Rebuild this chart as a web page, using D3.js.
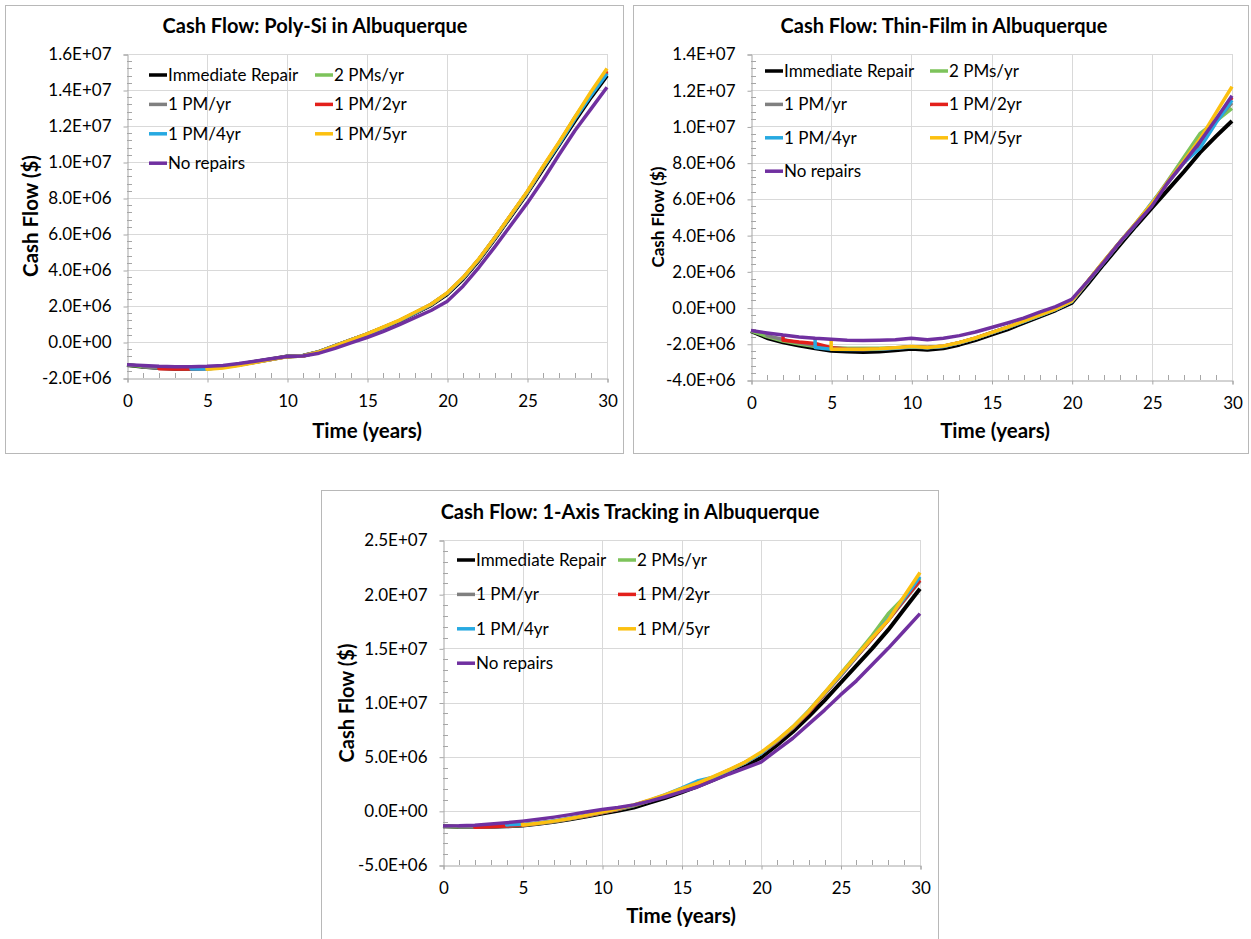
<!DOCTYPE html>
<html><head><meta charset="utf-8">
<script src="https://cdn.jsdelivr.net/npm/d3@7"></script>
<style>
body{margin:0;background:#fff;}
text{font-family:Lato,"Open Sans",sans-serif;fill:#000;}
</style></head>
<body><svg id="chart" width="1251" height="939"></svg>
<script>
// ---- data (values in millions of $) ----
const years = [0,1,2,3,4,5,6,7,8,9,10,11,12,13,14,15,16,17,18,19,20,21,22,23,24,25,26,27,28,29,30];
const seriesNames = ["Immediate Repair","2 PMs/yr","1 PM/yr","1 PM/2yr","1 PM/4yr","1 PM/5yr","No repairs"];
const seriesColors = ["#000000","#7dc35b","#808080","#e3201b","#27a9e1","#fcc010","#7030a0"];
const xTicks = [0,5,10,15,20,25,30];

// Poly-Si
const polyImmediate = [-1.28,-1.38,-1.45,-1.48,-1.48,-1.45,-1.38,-1.25,-1.1,-0.95,-0.8,-0.76,-0.55,-0.22,0.1,0.42,0.78,1.15,1.6,2.05,2.65,3.5,4.55,5.75,7.0,8.25,9.6,10.95,12.3,13.6,14.8];
const poly2PMyr = [-1.28,-1.36,-1.43,-1.46,-1.47,-1.46,-1.39,-1.26,-1.11,-0.96,-0.8,-0.76,-0.54,-0.21,0.12,0.44,0.8,1.18,1.62,2.08,2.7,3.55,4.6,5.8,7.05,8.3,9.7,11.05,12.5,13.8,15.0];
const poly1PMyr = [null,-1.38,-1.44,-1.47,-1.47,-1.46,-1.39,-1.26,-1.11,-0.96,-0.8,-0.76,-0.54,-0.21,0.12,0.44,0.8,1.18,1.62,2.08,2.7,3.55,4.6,5.8,7.05,8.3,9.7,11.05,12.45,13.75,14.95];
const poly1PM2yr = [null,null,-1.48,-1.5,-1.5,-1.48,-1.4,-1.27,-1.12,-0.97,-0.81,-0.77,-0.55,-0.22,0.12,0.44,0.8,1.18,1.62,2.08,2.7,3.55,4.6,5.8,7.05,8.3,9.7,11.05,12.45,13.8,15.05];
const poly1PM4yr = [null,null,null,null,-1.5,-1.5,-1.41,-1.28,-1.13,-0.98,-0.81,-0.77,-0.55,-0.22,0.12,0.44,0.8,1.18,1.62,2.08,2.7,3.55,4.6,5.8,7.05,8.3,9.7,11.0,12.4,13.7,14.9];
const poly1PM5yr = [null,null,null,null,null,-1.52,-1.44,-1.3,-1.14,-0.98,-0.82,-0.78,-0.55,-0.22,0.12,0.45,0.82,1.2,1.65,2.1,2.72,3.58,4.63,5.82,7.08,8.35,9.75,11.1,12.5,13.9,15.2];
const polyNoRepair = [-1.27,-1.3,-1.35,-1.37,-1.37,-1.35,-1.3,-1.2,-1.07,-0.93,-0.8,-0.78,-0.62,-0.35,-0.05,0.25,0.58,0.95,1.35,1.75,2.25,3.1,4.15,5.3,6.5,7.7,9.0,10.4,11.75,12.95,14.15];
const polyYTicks = [-2,0,2,4,6,8,10,12,14,16];

// Thin-Film
const thinImmediate = [-1.3,-1.68,-1.92,-2.1,-2.25,-2.38,-2.43,-2.45,-2.42,-2.36,-2.27,-2.33,-2.25,-2.05,-1.8,-1.5,-1.2,-0.85,-0.5,-0.15,0.25,1.3,2.4,3.45,4.5,5.5,6.5,7.5,8.55,9.45,10.3];
const thin2PMyr = [-1.3,-1.6,-1.85,-2.02,-2.15,-2.22,-2.25,-2.25,-2.25,-2.22,-2.16,-2.2,-2.13,-1.94,-1.69,-1.39,-1.09,-0.76,-0.43,-0.09,0.34,1.45,2.55,3.62,4.66,5.75,7.0,8.3,9.6,10.3,11.0];
const thin1PMyr = [null,-1.55,-1.76,-1.95,-2.1,-2.22,-2.28,-2.3,-2.29,-2.24,-2.17,-2.21,-2.14,-1.94,-1.69,-1.39,-1.09,-0.76,-0.43,-0.09,0.34,1.44,2.52,3.6,4.62,5.7,6.95,8.1,9.2,10.3,11.3];
const thin1PM2yr = [null,null,-1.8,-1.9,-1.98,-2.22,-2.3,-2.31,-2.29,-2.24,-2.17,-2.21,-2.14,-1.94,-1.69,-1.39,-1.09,-0.76,-0.43,-0.09,0.34,1.44,2.52,3.6,4.62,5.7,6.9,8.0,9.0,10.3,11.6];
const thin1PM4yr = [null,null,null,null,-2.2,-2.3,-2.32,-2.32,-2.3,-2.25,-2.18,-2.22,-2.15,-1.95,-1.7,-1.4,-1.1,-0.77,-0.44,-0.1,0.33,1.42,2.5,3.58,4.6,5.8,6.9,8.0,8.8,10.2,11.45];
const thin1PM5yr = [null,null,null,null,null,-2.3,-2.3,-2.3,-2.28,-2.22,-2.15,-2.2,-2.12,-1.93,-1.68,-1.38,-1.08,-0.75,-0.42,-0.08,0.35,1.45,2.55,3.6,4.65,5.75,6.95,8.1,9.3,10.75,12.2];
const thinNoRepair = [-1.27,-1.4,-1.52,-1.62,-1.7,-1.75,-1.8,-1.82,-1.8,-1.78,-1.7,-1.78,-1.7,-1.55,-1.35,-1.1,-0.85,-0.58,-0.25,0.05,0.45,1.45,2.5,3.6,4.6,5.6,6.9,8.0,9.15,10.4,11.7];
const thinYTicks = [-4,-2,0,2,4,6,8,10,12,14];

// 1-Axis Tracking
const trackImmediate = [-1.42,-1.47,-1.5,-1.48,-1.43,-1.35,-1.2,-1.0,-0.78,-0.52,-0.25,0.0,0.3,0.75,1.2,1.7,2.25,2.85,3.5,4.15,4.9,6.05,7.3,8.7,10.2,11.8,13.4,15.0,16.7,18.6,20.5];
const track2PMyr = [-1.42,-1.46,-1.48,-1.45,-1.4,-1.32,-1.18,-0.98,-0.74,-0.47,-0.18,0.12,0.47,0.92,1.42,1.98,2.5,3.1,3.75,4.45,5.3,6.45,7.75,9.25,10.9,12.65,14.4,16.2,18.2,19.7,21.5];
const track1PMyr = [null,-1.47,-1.5,-1.46,-1.4,-1.3,-1.15,-0.96,-0.72,-0.45,-0.15,0.15,0.5,0.95,1.45,2.0,2.5,3.1,3.75,4.45,5.3,6.4,7.65,9.1,10.8,12.45,14.2,15.9,17.6,19.4,21.2];
const track1PM2yr = [null,null,-1.52,-1.48,-1.4,-1.3,-1.15,-0.96,-0.72,-0.45,-0.15,0.15,0.5,0.95,1.45,2.0,2.5,3.1,3.75,4.45,5.3,6.4,7.65,9.1,10.8,12.45,14.2,15.9,17.6,19.5,21.3];
const track1PM4yr = [null,null,null,null,-1.3,-1.25,-1.12,-0.93,-0.68,-0.42,-0.12,0.18,0.52,0.97,1.5,2.1,2.75,3.1,3.75,4.45,5.3,6.45,7.7,9.2,10.85,12.5,14.25,16.0,17.7,19.6,21.6];
const track1PM5yr = [null,null,null,null,null,-1.3,-1.15,-0.95,-0.7,-0.42,-0.1,0.2,0.55,1.0,1.5,2.05,2.55,3.15,3.8,4.5,5.4,6.5,7.75,9.2,10.9,12.6,14.3,16.0,17.6,19.8,22.0];
const trackNoRepair = [-1.4,-1.38,-1.32,-1.22,-1.1,-0.95,-0.78,-0.58,-0.35,-0.1,0.12,0.3,0.55,0.9,1.3,1.75,2.2,2.8,3.4,3.95,4.5,5.6,6.7,8.0,9.3,10.7,12.0,13.5,15.0,16.6,18.2];
const trackYTicks = [-5,0,5,10,15,20,25];

// ---- drawing ----
const svg = d3.select("#chart");
const MIL = 1e6;

function fmtE(v){
  if (v === 0) return "0.0E+00";
  const e = Math.floor(Math.log10(Math.abs(v)) + 1e-9);
  const m = v / Math.pow(10, e);
  return m.toFixed(1) + "E" + (e >= 0 ? "+" : "-") + String(Math.abs(e)).padStart(2, "0");
}

function drawChart(cfg){
  const g = svg.append("g");
  g.append("rect").attr("x", cfg.box.x + 0.5).attr("y", cfg.box.y + 0.5)
    .attr("width", cfg.box.w).attr("height", cfg.box.h)
    .attr("fill", "#fff").attr("stroke", "#b8b8b8").attr("stroke-width", 1);

  const x = d3.scaleLinear().domain([0, 30]).range([cfg.plot.l, cfg.plot.r]);
  const yt = cfg.yTicks;
  const y = d3.scaleLinear().domain([yt[0] * MIL, yt[yt.length - 1] * MIL]).range([cfg.plot.b, cfg.plot.t]);
  const step = yt[1] - yt[0];

  g.append("g").selectAll("line").data(yt.slice(1)).join("line")
    .attr("x1", cfg.plot.l).attr("x2", cfg.plot.r)
    .attr("y1", d => Math.round(y(d * MIL)) + 0.5).attr("y2", d => Math.round(y(d * MIL)) + 0.5)
    .attr("stroke", "#d9d9d9").attr("stroke-width", 1);
  g.append("g").selectAll("line").data(xTicks.slice(1)).join("line")
    .attr("x1", d => Math.round(x(d)) + 0.5).attr("x2", d => Math.round(x(d)) + 0.5)
    .attr("y1", cfg.plot.t).attr("y2", cfg.plot.b)
    .attr("stroke", "#d9d9d9").attr("stroke-width", 1);

  const yMinor = [];
  for (let i = 0; i < yt.length - 1; i++) for (let k = 1; k < 5; k++) yMinor.push(yt[i] + step * k / 5);
  g.append("g").selectAll("line").data(yMinor).join("line")
    .attr("x1", cfg.plot.l).attr("x2", cfg.plot.l + 5)
    .attr("y1", d => Math.round(y(d * MIL)) + 0.5).attr("y2", d => Math.round(y(d * MIL)) + 0.5)
    .attr("stroke", "#a6a6a6");
  const xMinor = years.filter(v => v % 5 !== 0);
  g.append("g").selectAll("line").data(xMinor).join("line")
    .attr("x1", d => Math.round(x(d)) + 0.5).attr("x2", d => Math.round(x(d)) + 0.5)
    .attr("y1", cfg.plot.b).attr("y2", cfg.plot.b - 5)
    .attr("stroke", "#a6a6a6");

  const yAxis = d3.axisLeft(y).tickValues(yt.map(d => d * MIL)).tickSize(4).tickFormat(d => fmtE(d));
  const ya = g.append("g").attr("transform", `translate(${cfg.plot.l + 0.5},0.5)`).call(yAxis);
  ya.select(".domain").attr("stroke", "#a6a6a6");
  ya.selectAll(".tick line").attr("stroke", "#a6a6a6");
  ya.selectAll(".tick text").attr("x", -16).attr("font-size", cfg.tickFont).attr("font-family", "Lato").attr("fill", "#111");

  const xAxis = d3.axisBottom(x).tickValues(xTicks).tickSize(4).tickFormat(d3.format("d"));
  const xa = g.append("g").attr("transform", `translate(0.5,${cfg.plot.b + 0.5})`).call(xAxis);
  xa.select(".domain").attr("stroke", "#a6a6a6");
  xa.selectAll(".tick line").attr("stroke", "#a6a6a6");
  xa.selectAll(".tick text").attr("y", 16).attr("font-size", cfg.tickFont).attr("font-family", "Lato").attr("fill", "#111");

  const line = d3.line().x(d => x(d[0])).y(d => y(d[1] * MIL));
  const noRep = cfg.series[cfg.series.length - 1];
  cfg.series.forEach((vals, si) => {
    const pts = [];
    const first = vals.findIndex(v => v !== null);
    if (first > 0) pts.push([years[first], noRep[first]]);
    vals.forEach((v, i) => { if (v !== null) pts.push([years[i], v]); });
    g.append("path").attr("d", line(pts)).attr("fill", "none")
      .attr("stroke", seriesColors[si]).attr("stroke-width", si === 0 ? 4 : 3.5)
      .attr("stroke-linejoin", "round");
  });

  const lg = g.append("g");
  seriesNames.forEach((name, i) => {
    const col = i % 2, row = Math.floor(i / 2);
    const lx = col === 0 ? cfg.legend.x1 : cfg.legend.x2;
    const ly = cfg.legend.y0 + row * cfg.legend.dy;
    lg.append("rect").attr("x", lx).attr("y", ly - 1.75).attr("width", 18).attr("height", 3.5)
      .attr("fill", seriesColors[i]);
    lg.append("text").attr("x", lx + 19).attr("y", ly).attr("dy", "0.35em")
      .attr("font-size", cfg.legendFont).text(name);
  });

  g.append("text").attr("x", cfg.title.x).attr("y", cfg.title.y).attr("dy", "0.35em")
    .attr("text-anchor", "middle").attr("font-weight", "bold").attr("font-size", cfg.titleFont).text(cfg.title.text);
  g.append("text").attr("transform", `translate(${cfg.ylab.x},${cfg.ylab.y}) rotate(-90)`).attr("dy", "0.35em")
    .attr("text-anchor", "middle").attr("font-weight", "bold").attr("font-size", cfg.ylab.size).text("Cash Flow ($)");
  g.append("text").attr("x", cfg.xlab.x).attr("y", cfg.xlab.y).attr("dy", "0.35em")
    .attr("text-anchor", "middle").attr("font-weight", "bold").attr("font-size", cfg.xlab.size).text("Time (years)");
}

drawChart({
  box: {x: 5, y: 5, w: 618, h: 448},
  plot: {l: 127, r: 607, t: 54, b: 378},
  yTicks: polyYTicks,
  series: [polyImmediate, poly2PMyr, poly1PMyr, poly1PM2yr, poly1PM4yr, poly1PM5yr, polyNoRepair],
  title: {x: 315, y: 26, text: "Cash Flow: Poly-Si in Albuquerque"},
  titleFont: 20, tickFont: 17, legendFont: 17,
  ylab: {x: 31, y: 216, size: 20.5},
  xlab: {x: 367, y: 431, size: 20.5},
  legend: {x1: 149, x2: 315, y0: 75, dy: 29.4}
});
drawChart({
  box: {x: 633, y: 5, w: 615, h: 448},
  plot: {l: 751, r: 1232, t: 54, b: 380},
  yTicks: thinYTicks,
  series: [thinImmediate, thin2PMyr, thin1PMyr, thin1PM2yr, thin1PM4yr, thin1PM5yr, thinNoRepair],
  title: {x: 944, y: 26, text: "Cash Flow: Thin-Film in Albuquerque"},
  titleFont: 20, tickFont: 17, legendFont: 17,
  ylab: {x: 658, y: 217, size: 17},
  xlab: {x: 995, y: 431, size: 20.5},
  legend: {x1: 765, x2: 930, y0: 71, dy: 33.4}
});
drawChart({
  box: {x: 321, y: 490, w: 617, h: 470},
  plot: {l: 443, r: 920, t: 540, b: 865},
  yTicks: trackYTicks,
  series: [trackImmediate, track2PMyr, track1PMyr, track1PM2yr, track1PM4yr, track1PM5yr, trackNoRepair],
  title: {x: 630, y: 512, text: "Cash Flow: 1-Axis Tracking in Albuquerque"},
  titleFont: 20, tickFont: 17, legendFont: 17,
  ylab: {x: 347, y: 703, size: 20},
  xlab: {x: 681, y: 916, size: 20.5},
  legend: {x1: 457, x2: 618, y0: 560, dy: 34.4}
});
</script></body></html>
